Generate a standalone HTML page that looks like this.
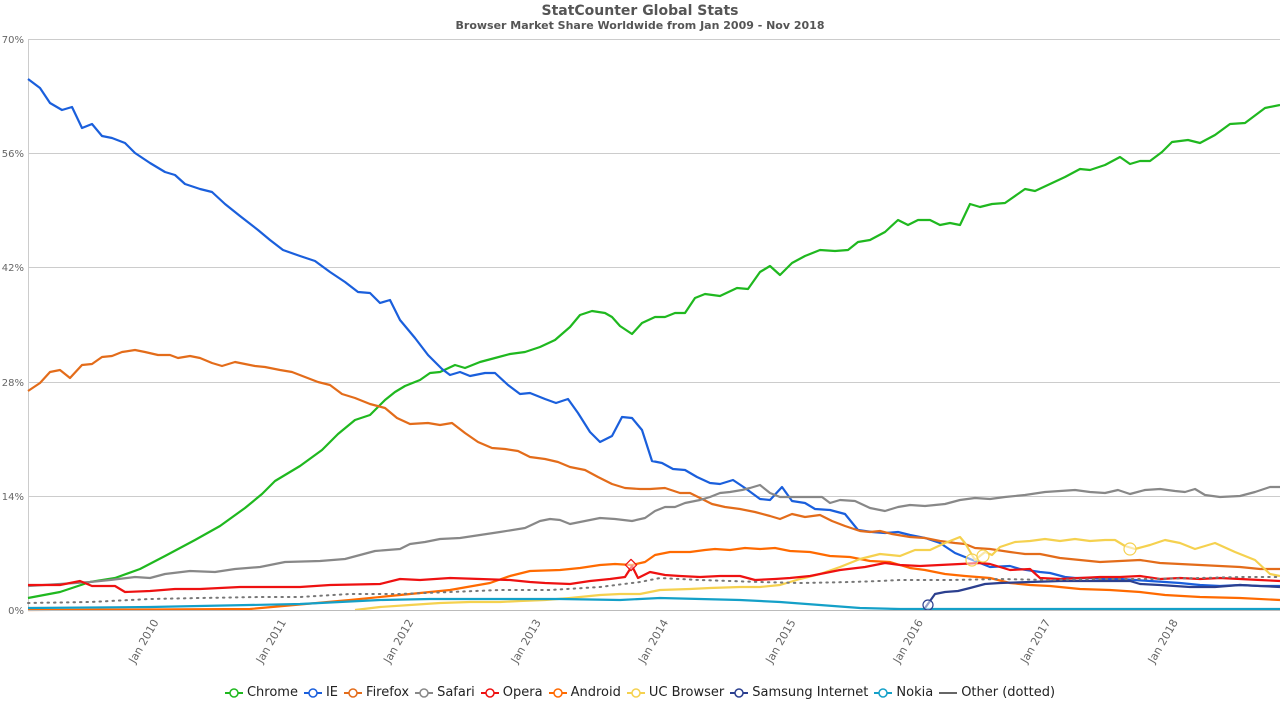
<!DOCTYPE html>
<html><head><meta charset="utf-8"><style>
body{margin:0;background:#fff;font-family:"DejaVu Sans","Liberation Sans",sans-serif;}
svg text{font-family:"DejaVu Sans","Liberation Sans",sans-serif;}
</style></head><body>
<svg width="1280" height="720" xmlns="http://www.w3.org/2000/svg">
<text x="640" y="15" text-anchor="middle" font-size="14" font-weight="bold" fill="#555">StatCounter Global Stats</text>
<text x="640" y="29" text-anchor="middle" font-size="11" font-weight="bold" fill="#555">Browser Market Share Worldwide from Jan 2009 - Nov 2018</text>
<g stroke="#ccc" stroke-width="1">
<line x1="28" y1="39.5" x2="1280" y2="39.5"/><line x1="28" y1="153.5" x2="1280" y2="153.5"/>
<line x1="28" y1="267.5" x2="1280" y2="267.5"/><line x1="28" y1="382.5" x2="1280" y2="382.5"/>
<line x1="28" y1="496.5" x2="1280" y2="496.5"/><line x1="28.5" y1="39" x2="28.5" y2="610"/>
</g>
<g font-size="10" fill="#666" text-anchor="end">
<text x="24" y="43">70%</text><text x="24" y="157">56%</text><text x="24" y="271">42%</text>
<text x="24" y="386">28%</text><text x="24" y="500">14%</text><text x="24" y="614">0%</text>
</g>
<g id="xl" font-size="11" fill="#666" text-anchor="end"></g>
<g id="series" fill="none" stroke-width="2.2" stroke-linejoin="round"></g>
<line x1="28" y1="610.5" x2="1280" y2="610.5" stroke="#bbb"/>
</svg>
<div style="position:absolute;top:685px;left:0;width:1280px;display:flex;justify-content:center;font-size:13px;color:#222;" id="leg"></div>
<script>
const S=[
["#1fb81f",false,[[28,598],[60,592],[90,582],[115,578],[140,569],[165,556],[195,540],[220,526],[245,508],[262,494],[275,481],[300,466],[322,450],[338,434],[355,420],[370,415],[385,400],[395,392],[405,386],[420,380],[430,373],[440,372],[455,365],[465,368],[480,362],[495,358],[510,354],[525,352],[540,347],[555,340],[570,327],[580,315],[592,311],[605,313],[612,317],[620,326],[632,334],[642,323],[655,317],[665,317],[675,313],[685,313],[695,298],[705,294],[720,296],[737,288],[748,289],[760,272],[770,266],[780,275],[792,263],[805,256],[820,250],[835,251],[848,250],[858,242],[870,240],[885,232],[898,220],[908,225],[918,220],[930,220],[940,225],[950,223],[960,225],[970,204],[980,207],[992,204],[1005,203],[1025,189],[1035,191],[1050,184],[1065,177],[1080,169],[1090,170],[1105,165],[1120,157],[1130,164],[1140,161],[1150,161],[1162,152],[1172,142],[1188,140],[1200,143],[1215,135],[1230,124],[1245,123],[1265,108],[1280,105]]],
["#1a5fdc",false,[[28,79],[40,88],[50,103],[62,110],[72,107],[82,128],[92,124],[102,136],[112,138],[125,143],[135,153],[150,163],[165,172],[175,175],[185,184],[200,189],[212,192],[225,204],[240,216],[258,230],[270,240],[283,250],[300,256],[315,261],[330,272],[345,282],[358,292],[370,293],[380,303],[390,300],[400,320],[415,338],[428,355],[442,369],[450,375],[460,372],[470,376],[485,373],[495,373],[508,385],[520,394],[530,393],[545,399],[556,403],[568,399],[578,413],[590,432],[600,442],[612,436],[622,417],[632,418],[642,430],[652,461],[662,463],[673,469],[685,470],[697,477],[710,483],[720,484],[733,480],[745,488],[760,499],[770,500],[782,487],[792,501],[805,503],[815,509],[830,510],[845,514],[858,530],[872,532],[885,533],[898,532],[910,535],[925,538],[940,543],[955,553],[965,557],[975,561],[990,567],[1010,566],[1020,569],[1040,572],[1050,573],[1065,577],[1075,578],[1090,578],[1105,579],[1120,579],[1135,580],[1150,581],[1165,582],[1180,583],[1200,585],[1220,586],[1240,585],[1260,586],[1280,586]]],
["#e36c1a",false,[[28,391],[40,383],[50,372],[60,370],[70,378],[82,365],[92,364],[102,357],[112,356],[122,352],[135,350],[145,352],[158,355],[170,355],[178,358],[190,356],[200,358],[212,363],[222,366],[235,362],[245,364],[255,366],[265,367],[280,370],[292,372],[305,377],[318,382],[330,385],[342,394],[355,398],[370,404],[385,408],[397,418],[410,424],[428,423],[440,425],[452,423],[465,433],[478,442],[492,448],[505,449],[518,451],[530,457],[545,459],[558,462],[570,467],[585,470],[598,477],[612,484],[625,488],[640,489],[650,489],[665,488],[680,493],[690,493],[700,498],[712,504],[725,507],[740,509],[755,512],[770,516],[780,519],[792,514],[805,517],[820,515],[832,521],[845,526],[860,531],[870,532],[880,531],[892,534],[910,537],[925,538],[940,541],[955,543],[965,544],[975,548],[990,549],[1010,552],[1025,554],[1040,554],[1060,558],[1080,560],[1100,562],[1120,561],[1140,560],[1160,563],[1180,564],[1200,565],[1220,566],[1240,567],[1260,569],[1280,569]]],
["#888",false,[[28,586],[60,584],[90,582],[110,580],[135,577],[150,578],[165,574],[190,571],[215,572],[235,569],[260,567],[285,562],[320,561],[345,559],[375,551],[400,549],[410,544],[425,542],[440,539],[460,538],[480,535],[500,532],[525,528],[540,521],[550,519],[560,520],[570,524],[585,521],[600,518],[615,519],[632,521],[645,518],[655,511],[665,507],[675,507],[685,503],[700,500],[710,497],[720,493],[730,492],[742,490],[750,488],[760,485],[770,493],[780,497],[790,497],[805,497],[822,497],[830,503],[840,500],[855,501],[870,508],[885,511],[898,507],[910,505],[925,506],[945,504],[960,500],[975,498],[990,499],[1005,497],[1025,495],[1045,492],[1060,491],[1075,490],[1090,492],[1105,493],[1118,490],[1130,494],[1145,490],[1160,489],[1175,491],[1185,492],[1195,489],[1205,495],[1220,497],[1240,496],[1255,492],[1270,487],[1280,487]]],
["#ff6a00",false,[[28,610],[250,609],[350,600],[400,595],[450,590],[490,583],[510,576],[530,571],[560,570],[580,568],[600,565],[615,564],[632,565],[645,562],[655,555],[670,552],[690,552],[705,550],[715,549],[730,550],[745,548],[760,549],[775,548],[790,551],[810,552],[830,556],[850,557],[870,561],[890,562],[910,568],[925,570],[945,574],[965,576],[990,578],[1010,583],[1030,585],[1050,586],[1080,589],[1110,590],[1140,592],[1165,595],[1200,597],[1240,598],[1280,600]]],
["#f5d14f",false,[[355,610],[380,607],[410,605],[440,603],[470,602],[500,602],[520,601],[545,600],[570,598],[600,595],[620,594],[640,594],[660,590],[690,589],[710,588],[740,587],[760,587],[780,585],[800,579],[820,574],[840,567],[860,559],[880,554],[900,556],[915,550],[930,550],[945,543],[960,537],[965,543],[975,560],[985,552],[992,555],[1000,547],[1015,542],[1030,541],[1045,539],[1060,541],[1075,539],[1090,541],[1105,540],[1115,540],[1125,546],[1135,549],[1150,545],[1165,540],[1180,543],[1195,549],[1215,543],[1235,552],[1255,560],[1270,574],[1280,576]]],
["#ee1111",false,[[28,585],[60,585],[80,581],[92,586],[115,586],[125,592],[150,591],[175,589],[200,589],[240,587],[260,587],[300,587],[330,585],[380,584],[400,579],[420,580],[450,578],[480,579],[510,580],[530,582],[545,583],[570,584],[590,581],[610,579],[625,577],[632,566],[638,578],[650,572],[665,575],[680,576],[700,577],[720,576],[740,576],[755,580],[775,579],[790,578],[810,576],[840,570],[865,567],[885,563],[900,565],[920,566],[940,565],[960,564],[980,563],[990,564],[1010,570],[1030,569],[1040,578],[1060,579],[1080,578],[1100,577],[1120,577],[1140,576],[1160,579],[1180,578],[1200,579],[1220,578],[1240,579],[1260,580],[1280,581]]],
["#2b3f8f",false,[[925,608],[935,594],[945,592],[958,591],[970,588],[985,584],[1000,583],[1030,582],[1060,581],[1100,581],[1130,581],[1140,584],[1160,585],[1190,587],[1215,587],[1240,585],[1280,587]]],
["#14a0c8",false,[[28,608],[150,607],[300,604],[380,600],[430,599],[500,599],[560,599],[620,600],[660,598],[700,599],[740,600],[780,602],[820,605],[860,608],[900,609],[1280,609]]],
["#777",true,[[28,603],[90,602],[150,599],[200,598],[260,597],[300,597],[350,594],[400,594],[450,592],[500,590],[550,590],[600,587],[640,582],[660,578],[700,580],[760,582],[800,583],[850,582],[880,581],[900,580],[950,580],[1000,579],[1050,580],[1100,579],[1150,579],[1200,578],[1240,577],[1280,577]]]
];
let h="";
for(const [c,d,p] of S){h+=`<polyline stroke="${c}" ${d?'stroke-width="2" stroke-dasharray="1.5 5" stroke-linecap="round"':''} points="${p.map(q=>q.join(',')).join(' ')}"/>`;}
h+=`<rect x="627" y="561" width="8" height="8" transform="rotate(45 631 565)" fill="#fff" fill-opacity=".5" stroke="#ee1111" stroke-width="1.2"/>`;
h+=`<circle cx="928" cy="605" r="5" fill="#fff" fill-opacity=".5" stroke="#2b3f8f" stroke-width="1.2"/>`;
for(const [x,y] of [[972,560],[983,556],[1130,549]])h+=`<circle cx="${x}" cy="${y}" r="6" fill="#fff" fill-opacity=".5" stroke="#f5d14f" stroke-width="1.2"/>`;
document.getElementById('series').innerHTML=h;
let xl="";const yrs=[2010,2011,2012,2013,2014,2015,2016,2017,2018];
yrs.forEach((y,i)=>{const x=159+i*127.4;xl+=`<text transform="translate(${x},622) rotate(-60)">Jan ${y}</text>`;});
document.getElementById('xl').innerHTML=xl;
const L=[["Chrome","#1fb81f"],["IE","#1a5fdc"],["Firefox","#e36c1a"],["Safari","#888"],["Opera","#ee1111"],["Android","#ff6a00"],["UC Browser","#f5d14f"],["Samsung Internet","#2b3f8f"],["Nokia","#14a0c8"]];
let lg="";
for(const [n,c] of L)lg+=`<span style="display:inline-flex;align-items:center;margin:0 3px"><svg width="18" height="12"><line x1="0" y1="6" x2="18" y2="6" stroke="${c}" stroke-width="2"/><circle cx="9" cy="6" r="4" fill="#fff" stroke="${c}" stroke-width="1.5"/></svg><span style="margin-left:4px">${n}</span></span>`;
lg+=`<span style="display:inline-flex;align-items:center;margin:0 3px"><svg width="18" height="12"><line x1="0" y1="6" x2="18" y2="6" stroke="#666" stroke-width="2"/></svg><span style="margin-left:4px">Other (dotted)</span></span>`;
document.getElementById('leg').innerHTML=lg;
</script>
</body></html>
